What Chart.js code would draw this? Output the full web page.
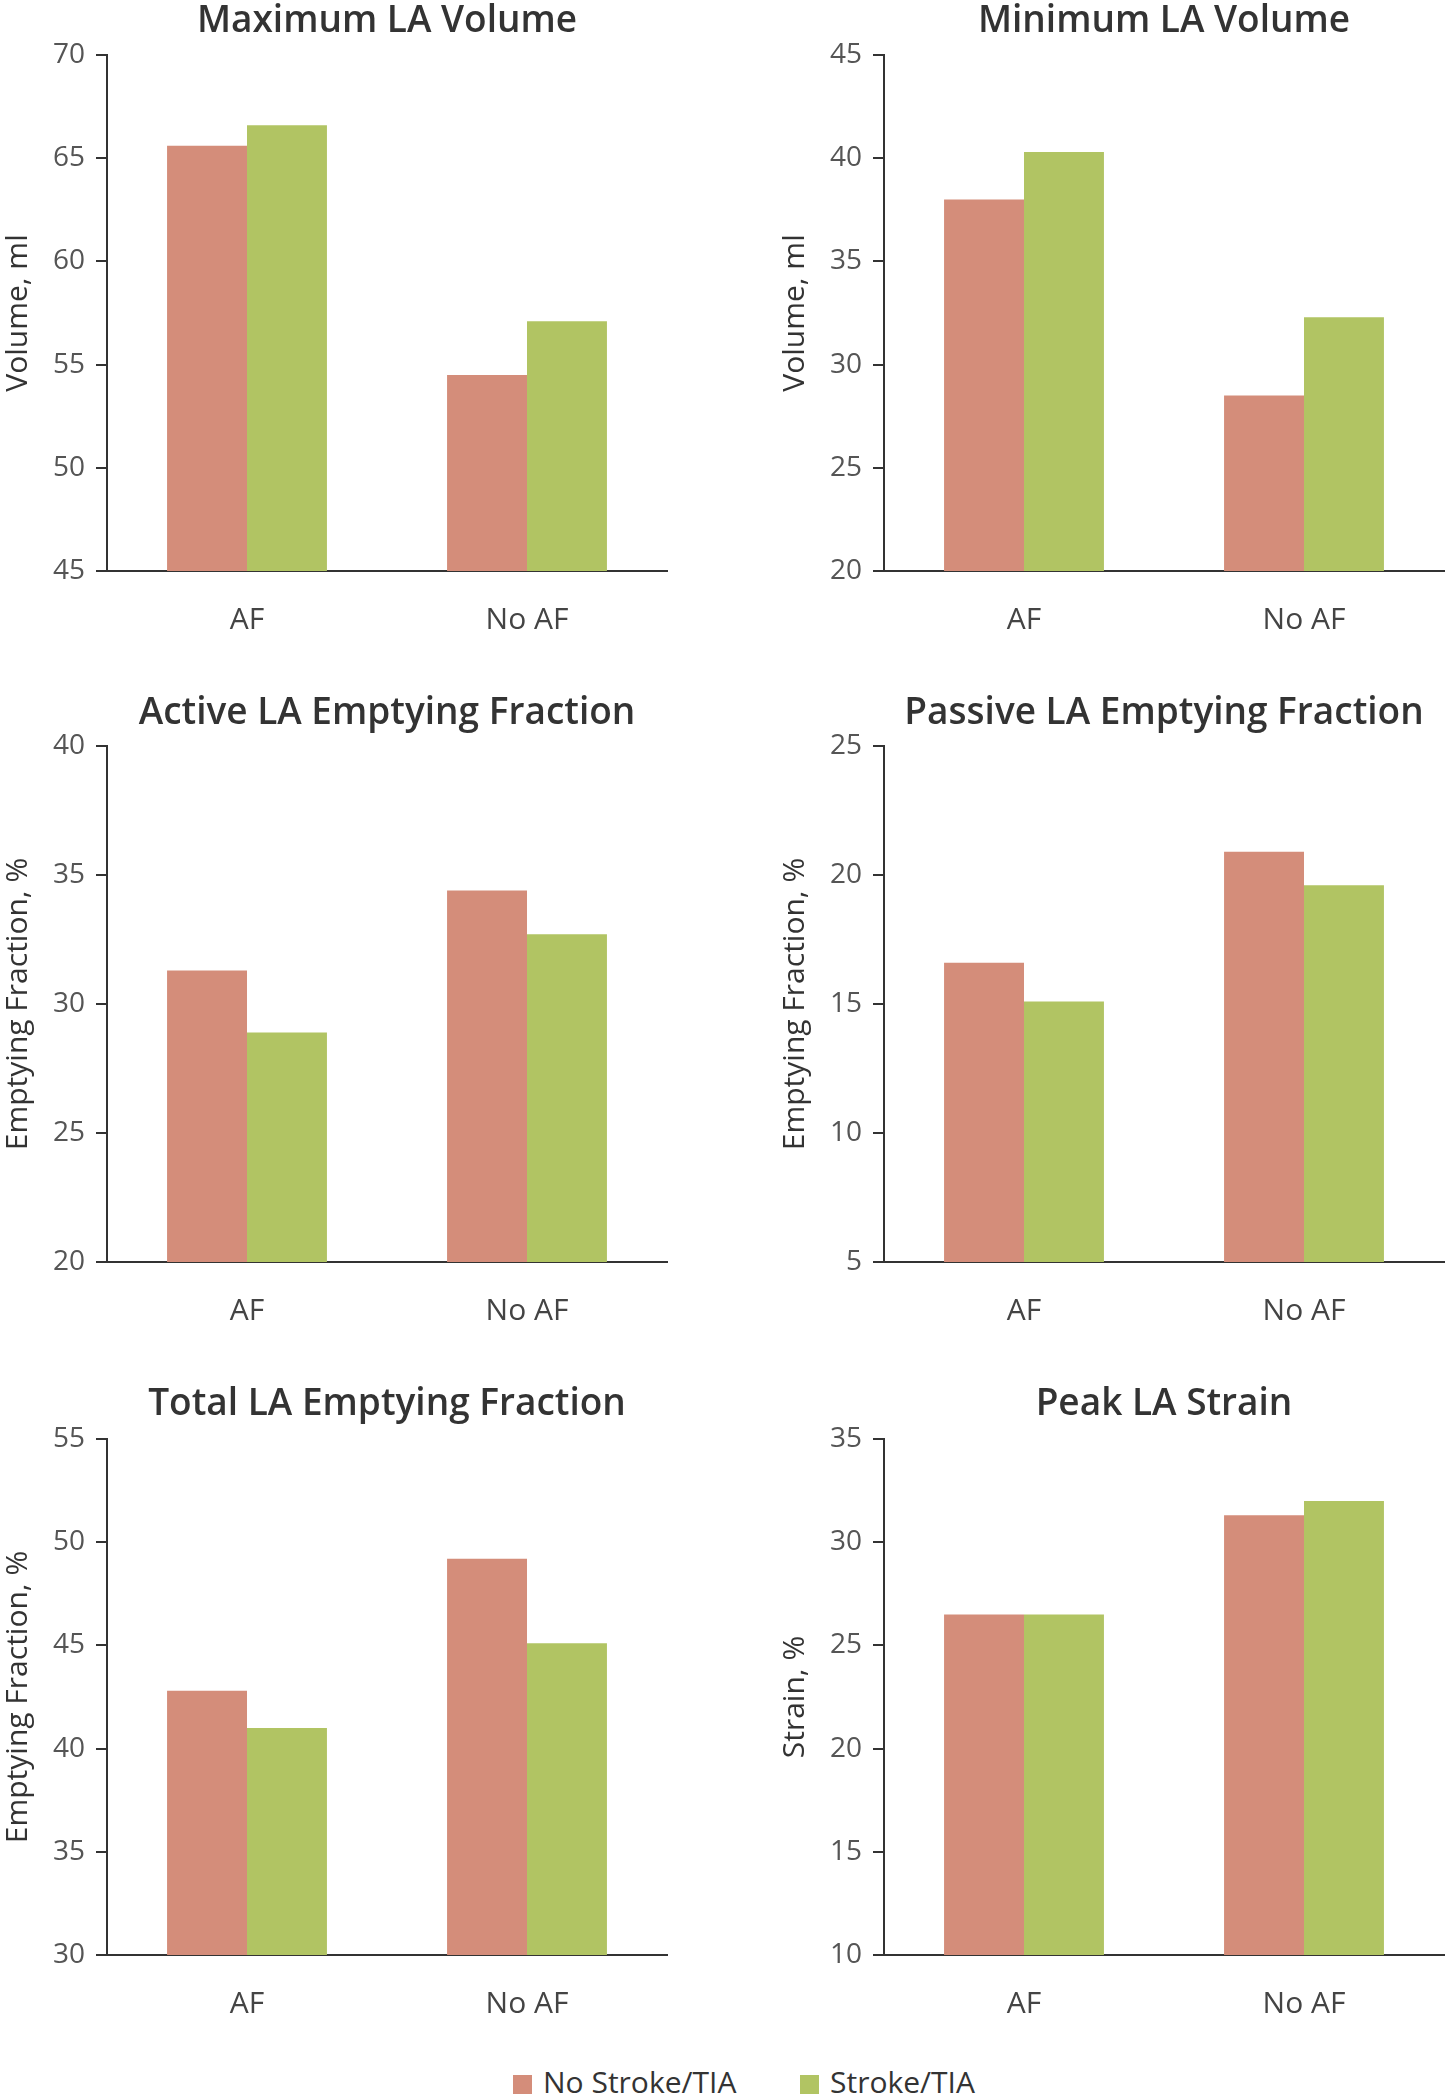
<!DOCTYPE html>
<html>
<head>
<meta charset="utf-8">
<script src="https://cdn.jsdelivr.net/npm/chart.js@4.4.1/dist/chart.umd.min.js"></script>
<style>
  html, body { margin: 0; padding: 0; background: #fff; overflow: hidden; }
  #page { position: relative; width: 1447px; height: 2100px; font-family: "Open Sans", sans-serif; }
  #page canvas { position: absolute; }
  .key { position: absolute; top: 2062px; height: 40px; line-height: 40px; font-size: 30px; color: #333; white-space: nowrap; }
  .key i { display: inline-block; width: 19px; height: 19px; margin-right: 11px; vertical-align: -1px; }
</style>
</head>
<body>
<div id="page">
  <canvas id="maxVol" width="670" height="660" style="left:0;top:0"></canvas>
  <canvas id="minVol" width="670" height="660" style="left:777px;top:0"></canvas>
  <canvas id="activeEF" width="670" height="660" style="left:0;top:690px"></canvas>
  <canvas id="passiveEF" width="670" height="660" style="left:777px;top:690px"></canvas>
  <canvas id="totalEF" width="670" height="660" style="left:0;top:1383px"></canvas>
  <canvas id="strain" width="670" height="660" style="left:777px;top:1383px"></canvas>
  <div class="key" style="left:513px"><i style="background:#D48D7A"></i>No Stroke/TIA</div>
  <div class="key" style="left:800px"><i style="background:#B1C463"></i>Stroke/TIA</div>
</div>
<script>
// values
const categories = ['AF', 'No AF'];
const seriesNames = ['No Stroke/TIA', 'Stroke/TIA'];

const maxVolNoStroke = [65.6, 54.5];
const maxVolStroke = [66.6, 57.1];
const minVolNoStroke = [38.0, 28.5];
const minVolStroke = [40.3, 32.3];
const activeNoStroke = [31.3, 34.4];
const activeStroke = [28.9, 32.7];
const passiveNoStroke = [16.6, 20.9];
const passiveStroke = [15.1, 19.6];
const totalNoStroke = [42.8, 49.2];
const totalStroke = [41.0, 45.1];
const strainNoStroke = [26.5, 31.3];
const strainStroke = [26.5, 32.0];

const red = '#D48D7A';
const green = '#B1C463';

Chart.defaults.font.family = '"Open Sans", sans-serif';

// draws the panel heading centred over the plot area
const panelTitle = {
  id: 'panelTitle',
  afterDraw(chart, args, opts) {
    const { ctx, chartArea } = chart;
    ctx.save();
    ctx.font = '600 37px "Open Sans", sans-serif';
    ctx.fillStyle = '#333';
    ctx.textAlign = 'center';
    ctx.textBaseline = 'middle';
    ctx.fillText(opts.text, (chartArea.left + chartArea.right) / 2, opts.y);
    ctx.restore();
  }
};

function panel(id, title, titleY, yLabel, min, max, noStroke, stroke, top, bottom) {
  return new Chart(document.getElementById(id), {
    type: 'bar',
    data: {
      labels: categories,
      datasets: [
        { label: seriesNames[0], data: noStroke, backgroundColor: red },
        { label: seriesNames[1], data: stroke, backgroundColor: green },
      ],
    },
    options: {
      responsive: false,
      animation: false,
      layout: { padding: { top: top, left: 0, right: 3, bottom: 0 } },
      datasets: { bar: { categoryPercentage: 0.571, barPercentage: 1.0 } },
      plugins: {
        legend: { display: false },
        tooltip: { enabled: false },
        panelTitle: { text: title, y: titleY },
      },
      scales: {
        x: {
          grid: { display: false },
          border: { display: true, color: '#333', width: 2 },
          ticks: { color: '#444', font: { size: 30 }, padding: 23 },
          afterFit(scale) { scale.height = 660 - bottom; },
        },
        y: {
          min: min,
          max: max,
          ticks: { stepSize: 5, color: '#555', font: { size: 28 }, padding: 11 },
          grid: { drawOnChartArea: false, drawTicks: true, tickLength: 11, color: '#333', lineWidth: 2 },
          border: { display: true, color: '#333', width: 2 },
          title: { display: true, text: yLabel, color: '#333', font: { size: 30, weight: '500' }, padding: { top: 0, bottom: 0 } },
          afterFit(scale) { scale.width = 107; },
        },
      },
    },
    plugins: [panelTitle],
  });
}

panel('maxVol', 'Maximum LA Volume', 21, 'Volume, ml', 45, 70, maxVolNoStroke, maxVolStroke, 55, 571);
panel('minVol', 'Minimum LA Volume', 21, 'Volume, ml', 20, 45, minVolNoStroke, minVolStroke, 55, 571);
panel('activeEF', 'Active LA Emptying Fraction', 23, 'Emptying Fraction, %', 20, 40, activeNoStroke, activeStroke, 56, 572);
panel('passiveEF', 'Passive LA Emptying Fraction', 23, 'Emptying Fraction, %', 5, 25, passiveNoStroke, passiveStroke, 56, 572);
panel('totalEF', 'Total LA Emptying Fraction', 21, 'Emptying Fraction, %', 30, 55, totalNoStroke, totalStroke, 56, 572);
panel('strain', 'Peak LA Strain', 21, 'Strain, %', 10, 35, strainNoStroke, strainStroke, 56, 572);
</script>
</body>
</html>
